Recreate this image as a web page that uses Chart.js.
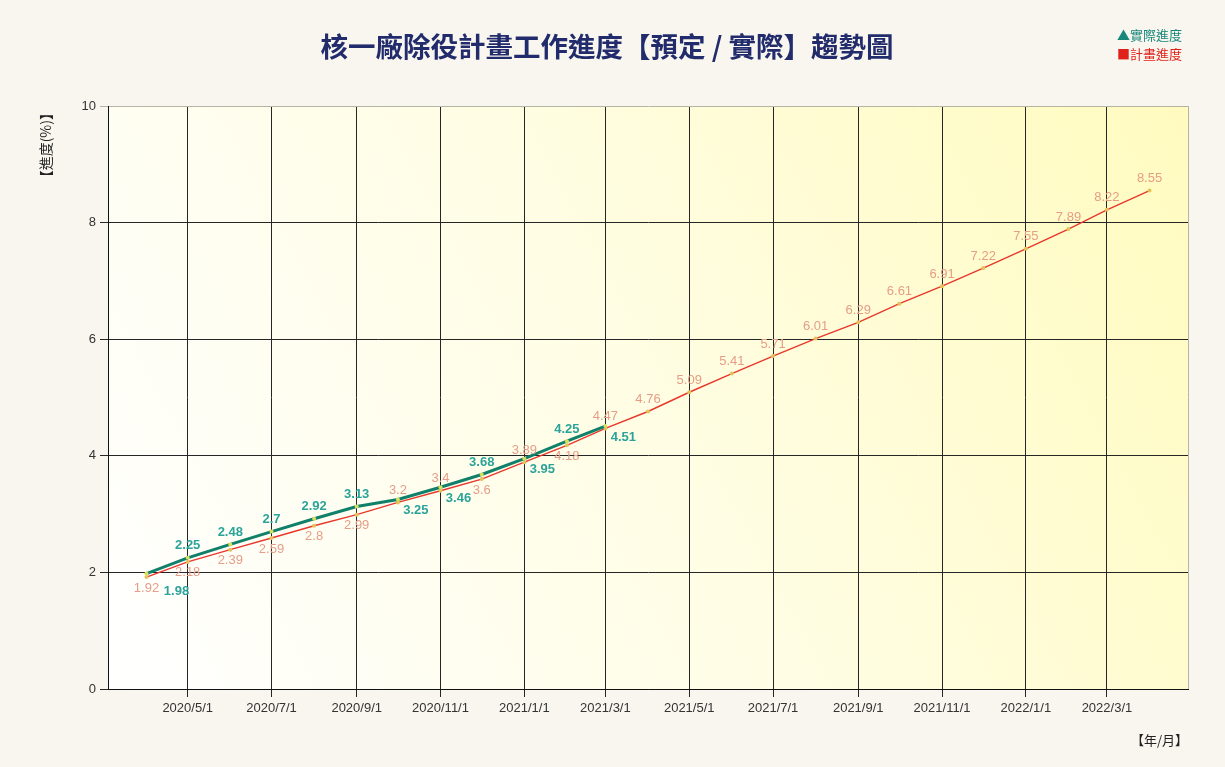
<!DOCTYPE html>
<html>
<head>
<meta charset="utf-8">
<title>核一廠除役計畫工作進度趨勢圖</title>
<script src="https://cdn.jsdelivr.net/npm/chart.js@4.4.1/dist/chart.umd.min.js"></script>
<style>
  body { margin: 0; background: #f8f6ee; }
  #wrap { position: relative; width: 1225px; height: 767px; }
  #title {
    position: absolute; top: 29px; left: 0; width: 1214px; text-align: center;
    font: bold 27.5px "Noto Sans CJK TC", sans-serif; line-height: 33px; color: #222c6c;
  }
  #legend {
    position: absolute; top: 25px; left: 1117px;
    font: 13px "Noto Sans CJK TC", sans-serif; line-height: 19px;
  }
  #legend .act { color: #17877c; }
  #legend .plan { color: #e0201a; }
</style>
</head>
<body>
<div id="wrap">
  <canvas id="myChart"></canvas>
  <div id="title">核一廠除役計畫工作進度【預定 / 實際】趨勢圖</div>
  <div id="legend">
    <div class="act">▲實際進度</div>
    <div class="plan">■計畫進度</div>
  </div>
</div>
<script>
// planned progress (計畫進度), one point per month
const planDates = [
  '2020/4/1', '2020/5/1', '2020/6/1', '2020/7/1', '2020/8/1', '2020/9/1',
  '2020/10/1', '2020/11/1', '2020/12/1', '2021/1/1', '2021/2/1', '2021/3/1',
  '2021/4/1', '2021/5/1', '2021/6/1', '2021/7/1', '2021/8/1', '2021/9/1',
  '2021/10/1', '2021/11/1', '2021/12/1', '2022/1/1', '2022/2/1', '2022/3/1',
  '2022/4/1'
];
const planValues = [
  1.92, 2.18, 2.39, 2.59, 2.8, 2.99, 3.2, 3.4, 3.6, 3.89, 4.18, 4.47,
  4.76, 5.09, 5.41, 5.71, 6.01, 6.29, 6.61, 6.91, 7.22, 7.55, 7.89, 8.22,
  8.55
];

// actual progress (實際進度)
const actualDates = [
  '2020/4/1', '2020/5/1', '2020/6/1', '2020/7/1', '2020/8/1', '2020/9/1',
  '2020/10/1', '2020/11/1', '2020/12/1', '2021/1/1', '2021/2/1', '2021/3/1'
];
const actualValues = [1.98, 2.25, 2.48, 2.7, 2.92, 3.13, 3.25, 3.46, 3.68, 3.95, 4.25, 4.51];

const xTickLabels = [
  '2020/5/1', '2020/7/1', '2020/9/1', '2020/11/1', '2021/1/1', '2021/3/1',
  '2021/5/1', '2021/7/1', '2021/9/1', '2021/11/1', '2022/1/1', '2022/3/1'
];
const yTickValues = [0, 2, 4, 6, 8, 10];

// where each value label sits (a = above, b = below, br = below right)
const planLabelSide = ['b', 'b', 'b', 'b', 'b', 'b', 'a', 'a', 'b', 'a', 'b', 'a',
  'a', 'a', 'a', 'a', 'a', 'a', 'a', 'a', 'a', 'a', 'a', 'a', 'a'];
const actualLabelSide = ['brr', 'a', 'a', 'a', 'a', 'a', 'br', 'br', 'a', 'br', 'a', 'br'];
const sideOffset = { a: [0, -12], b: [0, 11], br: [18, 11], brr: [30, 18] };

function toDay(s) {
  var p = s.split('/').map(Number);
  return Date.UTC(p[0], p[1] - 1, p[2]) / 86400000;
}
var dayLabel = {};
xTickLabels.forEach(function (l) { dayLabel[toDay(l)] = l; });

const CJK = '"Noto Sans CJK TC", sans-serif';
const LAT = '"Liberation Sans", Arial, sans-serif';

// chart area background: white at lower left fading to yellow at upper right
const areaBg = {
  id: 'areaBg',
  beforeDraw(chart) {
    var a = chart.chartArea, ctx = chart.ctx;
    var g = ctx.createLinearGradient(a.left, a.bottom, a.right, a.top);
    g.addColorStop(0, '#ffffff');
    g.addColorStop(0.5, '#fffde3');
    g.addColorStop(1, '#fffbbf');
    ctx.save();
    ctx.fillStyle = g;
    ctx.fillRect(a.left, a.top, a.right - a.left, a.bottom - a.top);
    ctx.restore();
  },
  afterDraw(chart) {
    var a = chart.chartArea, ctx = chart.ctx;
    ctx.save();
    ctx.strokeStyle = '#b5b5a5';
    ctx.lineWidth = 1;
    ctx.beginPath();
    ctx.moveTo(a.right + 0.5, a.top);
    ctx.lineTo(a.right + 0.5, a.bottom);
    ctx.stroke();
    ctx.restore();
  }
};

// value labels next to each point
const valueLabels = {
  id: 'valueLabels',
  afterDatasetsDraw(chart) {
    var ctx = chart.ctx;
    chart.data.datasets.forEach(function (ds, i) {
      var meta = chart.getDatasetMeta(i);
      ctx.save();
      ctx.font = ds.labelFont;
      ctx.fillStyle = ds.labelColor;
      ctx.textAlign = 'center';
      ctx.textBaseline = 'middle';
      meta.data.forEach(function (pt, j) {
        var off = sideOffset[ds.labelSide[j]];
        ctx.fillText(String(ds.data[j].y), pt.x + off[0], pt.y + off[1]);
      });
      ctx.restore();
    });
  }
};

function drawChart() {
  const data = {
    datasets: [{
      label: '實際進度',
      data: actualDates.map(function (d, i) { return { x: toDay(d), y: actualValues[i] }; }),
      borderColor: '#10806a',
      borderWidth: 3,
      pointRadius: 2,
      pointBackgroundColor: '#d8e05a',
      pointBorderWidth: 0,
      labelSide: actualLabelSide,
      labelFont: 'bold 13px ' + LAT,
      labelColor: '#2ba39b',
      order: 0
    }, {
      label: '計畫進度',
      data: planDates.map(function (d, i) { return { x: toDay(d), y: planValues[i] }; }),
      borderColor: '#e8372c',
      borderWidth: 1.4,
      pointRadius: 2,
      pointBackgroundColor: '#e3c25a',
      pointBorderWidth: 0,
      labelSide: planLabelSide,
      labelFont: '13px ' + LAT,
      labelColor: '#e69d88',
      order: 1
    }]
  };

  const config = {
    type: 'line',
    data,
    options: {
      responsive: true,
      maintainAspectRatio: false,
      animation: false,
      layout: { padding: { left: 0, right: 37, top: 106, bottom: 0 } },
      plugins: {
        legend: { display: false },
        tooltip: { enabled: false },
        title: { display: false }
      },
      scales: {
        x: {
          type: 'linear',
          min: toDay('2020/3/4'),
          max: toDay('2022/4/29'),
          afterBuildTicks: function (scale) {
            scale.ticks = xTickLabels.map(function (l) { return { value: toDay(l) }; });
          },
          afterFit: function (scale) { scale.height = 78; },
          ticks: {
            autoSkip: false,
            maxRotation: 0,
            padding: 4,
            color: '#333',
            font: { family: LAT, size: 13 },
            callback: function (v) { return dayLabel[v] || ''; }
          },
          grid: { color: '#262626', lineWidth: 1, tickLength: 8 },
          border: { color: '#111', width: 1 },
          title: {
            display: true,
            text: '【年/月】',
            align: 'end',
            color: '#222',
            font: { family: CJK, size: 13 },
            padding: { top: 14, bottom: 19 }
          }
        },
        y: {
          min: 0,
          max: 10,
          afterBuildTicks: function (scale) {
            scale.ticks = yTickValues.map(function (v) { return { value: v }; });
          },
          afterFit: function (scale) { scale.width = 108; },
          ticks: {
            padding: 4,
            color: '#333',
            font: { family: LAT, size: 13 }
          },
          grid: {
            color: function (c) { return c.tick && c.tick.value === 10 ? '#b5b5a5' : '#262626'; },
            lineWidth: 1,
            tickLength: 8
          },
          border: { color: '#111', width: 1 },
          title: {
            display: true,
            text: '【進度(%)】',
            align: 'end',
            color: '#222',
            font: { family: CJK, size: 14 },
            padding: { top: 37, bottom: 0 }
          }
        }
      }
    },
    plugins: [areaBg, valueLabels]
  };

  return new Chart(document.getElementById('myChart'), config);
}

drawChart();
</script>
</body>
</html>
